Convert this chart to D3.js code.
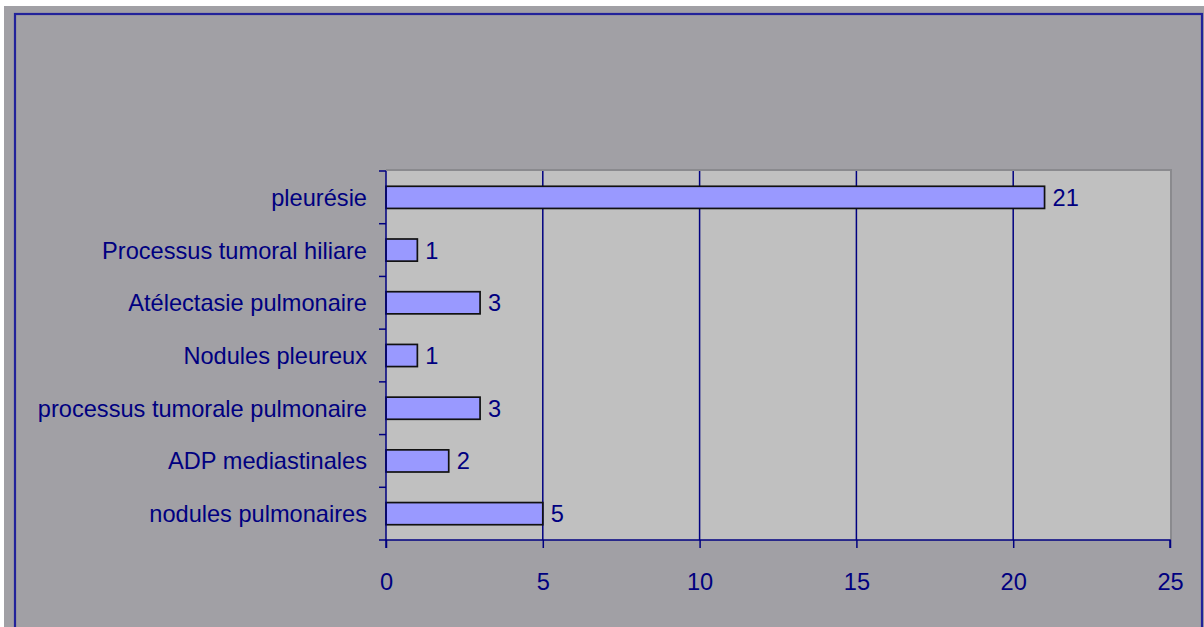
<!DOCTYPE html>
<html>
<head>
<meta charset="utf-8">
<script src="https://cdn.jsdelivr.net/npm/d3@7"></script>
<style>
  html, body { margin: 0; padding: 0; background: #ffffff; }
  svg { display: block; }
  text { font-family: "Liberation Sans", Arial, sans-serif; }
</style>
</head>
<body>
<svg id="chart" width="1204" height="627"></svg>
<script>
// Findings, listed top to bottom
const categories = [
  "pleurésie",
  "Processus tumoral hiliare",
  "Atélectasie pulmonaire",
  "Nodules pleureux",
  "processus tumorale pulmonaire",
  "ADP mediastinales",
  "nodules pulmonaires"
];
const values = [21, 1, 3, 1, 3, 2, 5];
const xTicks = [0, 5, 10, 15, 20, 25];

const svg = d3.select("#chart");
const W = 1204, H = 627;
const plot = { left: 386, top: 171, right: 1170, bottom: 540 };
const ink = "#000080";
const fontSize = 23.6;

// Chart background and frame
svg.append("rect").attr("x", 0).attr("y", 0).attr("width", W).attr("height", H).attr("fill", "#ffffff");
svg.append("rect").attr("x", 4).attr("y", 6).attr("width", W - 4).attr("height", H - 6).attr("fill", "#a1a0a5");
svg.append("rect").attr("x", 15).attr("y", 14).attr("width", 1187).attr("height", 640)
  .attr("fill", "none").attr("stroke", "#22229a").attr("stroke-width", 2.2);

const x = d3.scaleLinear().domain([0, 25]).range([plot.left, plot.right]);
const y = d3.scaleBand().domain(categories).range([plot.top, plot.bottom])
  .paddingInner(0.58).paddingOuter(0.29);

// Plot area with shaded top/right edge
svg.append("rect").attr("x", plot.left).attr("y", plot.top)
  .attr("width", plot.right - plot.left).attr("height", plot.bottom - plot.top)
  .attr("fill", "#c0c0c0");
svg.append("path")
  .attr("d", `M${plot.left},${plot.top - 1}H${plot.right + 1}V${plot.bottom}`)
  .attr("fill", "none").attr("stroke", "#8a8a8e").attr("stroke-width", 2);

// Vertical gridlines
svg.append("g").selectAll("line").data(xTicks.filter(t => t > 0 && t < 25)).join("line")
  .attr("x1", d => x(d)).attr("x2", d => x(d))
  .attr("y1", plot.top).attr("y2", plot.bottom)
  .attr("stroke", ink).attr("stroke-width", 1.5);

// Bars
svg.append("g").selectAll("rect").data(values).join("rect")
  .attr("x", x(0))
  .attr("y", (d, i) => y(categories[i]))
  .attr("width", d => x(d) - x(0))
  .attr("height", y.bandwidth())
  .attr("fill", "#9999ff")
  .attr("stroke", "#111111").attr("stroke-width", 1.7);

// Value labels
svg.append("g").selectAll("text").data(values).join("text")
  .attr("x", d => x(d) + 8)
  .attr("y", (d, i) => y(categories[i]) + y.bandwidth() / 2)
  .attr("dy", "0.36em")
  .attr("fill", ink).attr("font-size", fontSize)
  .text(d => d);

// X axis
const xAxis = svg.append("g").attr("transform", `translate(0,${plot.bottom})`)
  .call(d3.axisBottom(x).tickValues(xTicks).tickSize(8).tickPadding(25).tickFormat(d3.format("d")));
xAxis.select(".domain").attr("stroke", ink).attr("stroke-width", 1.5)
  .attr("d", `M${plot.left},8V0H${plot.right}V8`);
xAxis.selectAll(".tick line").attr("stroke", ink).attr("stroke-width", 1.5);
xAxis.selectAll(".tick text").attr("fill", ink).attr("font-size", fontSize)
  .attr("font-family", "'Liberation Sans', Arial, sans-serif");

// Y axis: line, category boundary ticks and labels
const yg = svg.append("g");
yg.append("line").attr("x1", plot.left).attr("x2", plot.left)
  .attr("y1", plot.top).attr("y2", plot.bottom)
  .attr("stroke", ink).attr("stroke-width", 1.5);
const bounds = categories.map(c => y(c) - y.step() * y.paddingInner() / 2).concat([plot.bottom]);
yg.selectAll("line.tick").data(bounds).join("line").attr("class", "tick")
  .attr("x1", plot.left - 7).attr("x2", plot.left)
  .attr("y1", d => d).attr("y2", d => d)
  .attr("stroke", ink).attr("stroke-width", 1.5);
yg.selectAll("text").data(categories).join("text")
  .attr("x", plot.left - 19)
  .attr("y", d => y(d) + y.bandwidth() / 2)
  .attr("dy", "0.36em")
  .attr("text-anchor", "end")
  .attr("fill", ink).attr("font-size", fontSize)
  .text(d => d);
</script>
</body>
</html>
